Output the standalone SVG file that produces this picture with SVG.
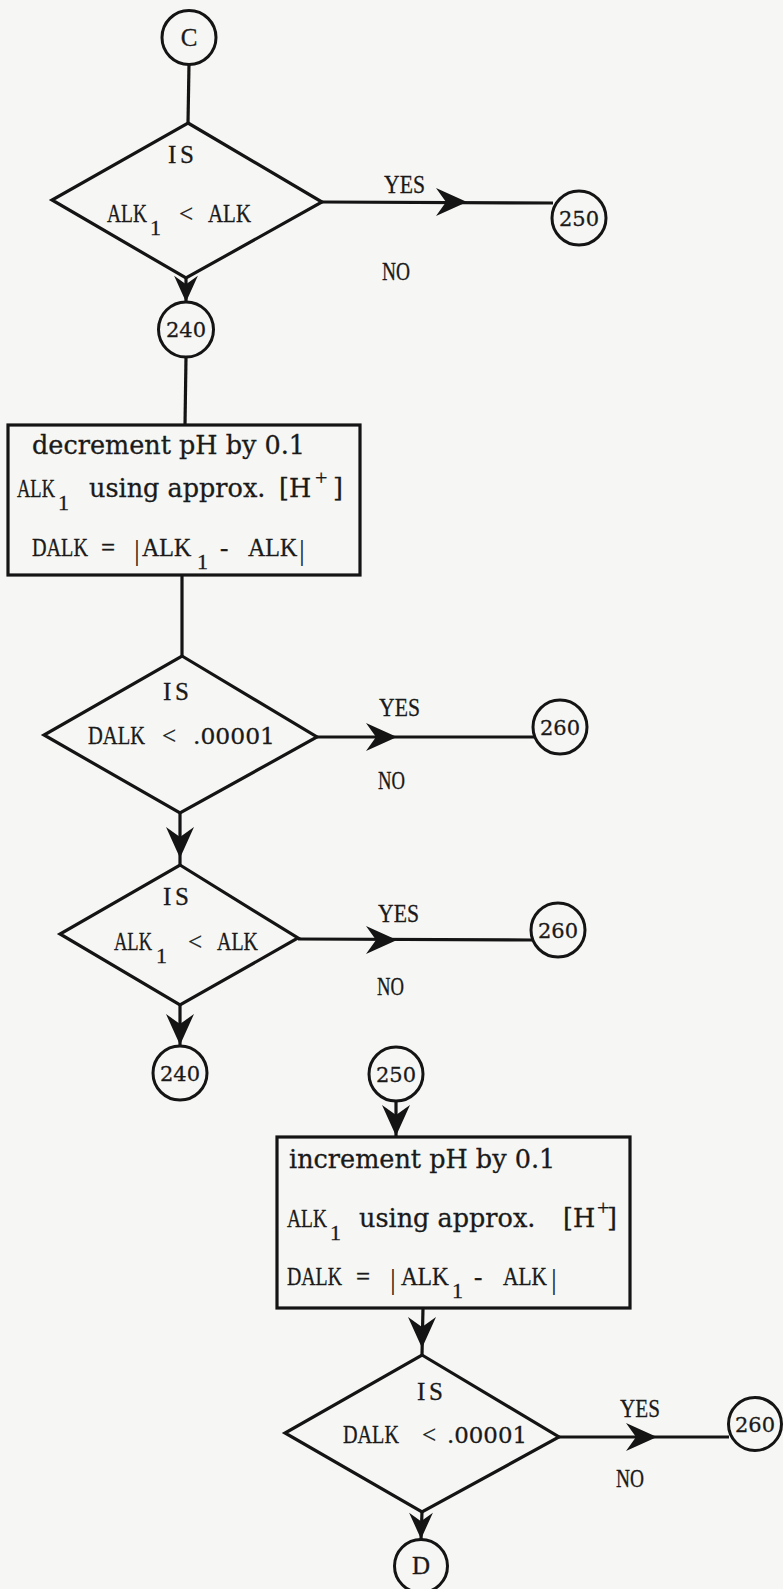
<svg xmlns="http://www.w3.org/2000/svg" xmlns:xlink="http://www.w3.org/1999/xlink" width="783" height="1589" viewBox="0 0 783 1589">
<style>
.ln{stroke:#141414;stroke-width:3.2;fill:none;stroke-linejoin:miter}
.cir{stroke:#141414;stroke-width:3;fill:none}
.ah{fill:#141414}
text{fill:#1a1a1a;stroke:#1a1a1a;stroke-width:0.3}
.cap{font-family:"Liberation Serif","Times New Roman",serif;font-size:25px}
.sub{font-family:"Liberation Serif","Times New Roman",serif;font-size:22px}
.low{font-family:"DejaVu Serif","Liberation Serif",serif;font-size:25.5px}
.num{font-family:"DejaVu Serif","Liberation Serif",serif;font-size:21px}
.dig{font-family:"DejaVu Serif","Liberation Serif",serif;font-size:23px}
.bar{font-family:"Liberation Serif","Times New Roman",serif;font-size:29px;stroke-width:0}
.mid{text-anchor:middle}
</style>
<defs>
<path id="ah" d="M0,0 L-31,-14 L-21,0 L-31,14 Z"/>
</defs>
<rect x="0" y="0" width="783" height="1589" fill="#f6f6f4"/>

<g id="connectors">
<line class="ln" x1="189" y1="64" x2="188" y2="123"/>
<line class="ln" x1="322" y1="202" x2="553" y2="203"/>
<line class="ln" x1="186" y1="278" x2="186" y2="302"/>
<line class="ln" x1="186" y1="357" x2="185" y2="425"/>
<line class="ln" x1="182" y1="575" x2="182" y2="656"/>
<line class="ln" x1="317" y1="737" x2="534" y2="737"/>
<line class="ln" x1="180" y1="813" x2="180" y2="865"/>
<line class="ln" x1="298" y1="939" x2="532" y2="940"/>
<line class="ln" x1="180" y1="1005" x2="180" y2="1046"/>
<line class="ln" x1="396" y1="1101" x2="396" y2="1137"/>
<line class="ln" x1="423" y1="1308" x2="422" y2="1355"/>
<line class="ln" x1="559" y1="1437" x2="729" y2="1437"/>
<line class="ln" x1="422" y1="1512" x2="421" y2="1540"/>
<use href="#ah" class="ah" transform="translate(467,202)"/>
<use href="#ah" class="ah" transform="translate(397,737)"/>
<use href="#ah" class="ah" transform="translate(397,940)"/>
<use href="#ah" class="ah" transform="translate(657,1437)"/>
<use href="#ah" class="ah" transform="translate(186,302) rotate(90) scale(0.85)"/>
<use href="#ah" class="ah" transform="translate(180,858) rotate(90)"/>
<use href="#ah" class="ah" transform="translate(180,1045) rotate(90)"/>
<use href="#ah" class="ah" transform="translate(396,1136) rotate(90)"/>
<use href="#ah" class="ah" transform="translate(422,1348) rotate(90)"/>
<use href="#ah" class="ah" transform="translate(421,1539) rotate(90) scale(0.85)"/>
<text class="cap" transform="translate(384,193) scale(0.868,1)">YES</text>
<text class="cap" transform="translate(382,280) scale(0.776,1)">NO</text>
<text class="cap" transform="translate(379,716) scale(0.868,1)">YES</text>
<text class="cap" transform="translate(378,789) scale(0.748,1)">NO</text>
<text class="cap" transform="translate(378,922) scale(0.868,1)">YES</text>
<text class="cap" transform="translate(377,995) scale(0.748,1)">NO</text>
<text class="cap" transform="translate(620,1417) scale(0.847,1)">YES</text>
<text class="cap" transform="translate(616,1487) scale(0.776,1)">NO</text>
</g>

<g id="nodeC">
<circle class="cir" cx="189" cy="37.5" r="27"/>
<text class="cap mid" x="189" y="46">C</text>
</g>

<g id="dec1">
<polygon class="ln" points="188,123 322,202 186,278 52,200"/>
<text class="cap" x="168" y="163" textLength="26" lengthAdjust="spacing">IS</text>
<text class="cap" transform="translate(107,222) scale(0.778,1)">ALK</text>
<text class="sub" x="150" y="235">1</text>
<text class="cap" x="179" y="222">&lt;</text>
<text class="cap" transform="translate(208,222) scale(0.837,1)">ALK</text>
</g>

<g id="n250a">
<circle class="cir" cx="579" cy="218" r="27"/>
<text class="num mid" x="579" y="225.5">250</text>
</g>

<g id="n240a">
<circle class="cir" cx="186" cy="329.5" r="27.5"/>
<text class="num mid" x="186" y="337">240</text>
</g>

<g id="box1">
<rect class="ln" x="8" y="425" width="352" height="150"/>
<text class="low" x="32" y="454">decrement pH by 0.1</text>
<text class="cap" transform="translate(17,497) scale(0.74,1)">ALK</text>
<text class="sub" x="58" y="510">1</text>
<text class="low" x="89" y="497">using approx.</text>
<text class="low" x="279" y="497">[H</text>
<text class="sub" x="315" y="485">+</text>
<text class="low" x="333" y="497">]</text>
<text class="cap" transform="translate(32,556) scale(0.807,1)">DALK</text>
<text class="cap" x="101" y="556">=</text>
<text class="bar" x="134" y="560">|</text>
<text class="cap" transform="translate(142,556) scale(0.96,1)">ALK</text>
<text class="sub" x="197" y="569">1</text>
<text class="cap" x="220" y="556">-</text>
<text class="cap" transform="translate(248,556) scale(0.96,1)">ALK</text>
<text class="bar" x="299" y="560">|</text>
</g>

<g id="dec2">
<polygon class="ln" points="182,656 317,737 180,813 44,735"/>
<text class="cap" x="163" y="700" textLength="26" lengthAdjust="spacing">IS</text>
<text class="cap" transform="translate(88,744) scale(0.821,1)">DALK</text>
<text class="cap" x="162" y="744">&lt;</text>
<text class="dig" x="193" y="744" textLength="82" lengthAdjust="spacingAndGlyphs">.00001</text>
</g>

<g id="n260a">
<circle class="cir" cx="560" cy="727" r="27"/>
<text class="num mid" x="560" y="734.5">260</text>
</g>

<g id="dec3">
<polygon class="ln" points="180,865 298,938 180,1005 60,934"/>
<text class="cap" x="163" y="905" textLength="26" lengthAdjust="spacing">IS</text>
<text class="cap" transform="translate(114,950) scale(0.74,1)">ALK</text>
<text class="sub" x="156" y="963">1</text>
<text class="cap" x="188" y="950">&lt;</text>
<text class="cap" transform="translate(217,950) scale(0.798,1)">ALK</text>
</g>

<g id="n260b">
<circle class="cir" cx="558" cy="930" r="27"/>
<text class="num mid" x="558" y="937.5">260</text>
</g>

<g id="n240b">
<circle class="cir" cx="180" cy="1073" r="27"/>
<text class="num mid" x="180" y="1080.5">240</text>
</g>

<g id="n250b">
<circle class="cir" cx="396" cy="1074" r="27"/>
<text class="num mid" x="396" y="1081.5">250</text>
</g>

<g id="box2">
<rect class="ln" x="277" y="1137" width="353" height="171"/>
<text class="low" x="289" y="1168">increment pH by 0.1</text>
<text class="cap" transform="translate(287,1227) scale(0.778,1)">ALK</text>
<text class="sub" x="330" y="1240">1</text>
<text class="low" x="359" y="1227">using approx.</text>
<text class="low" x="563" y="1227">[H</text>
<text class="sub" x="597" y="1215">+</text>
<text class="low" x="607" y="1227">]</text>
<text class="cap" transform="translate(287,1285) scale(0.793,1)">DALK</text>
<text class="cap" x="356" y="1285">=</text>
<text class="bar" x="390" y="1289">|</text>
<text class="cap" transform="translate(401,1285) scale(0.934,1)">ALK</text>
<text class="sub" x="452" y="1298">1</text>
<text class="cap" x="474" y="1285">-</text>
<text class="cap" transform="translate(503,1285) scale(0.856,1)">ALK</text>
<text class="bar" x="551" y="1289">|</text>
</g>

<g id="dec4">
<polygon class="ln" points="422,1355 559,1437 422,1512 285,1433"/>
<text class="cap" x="417" y="1400" textLength="26" lengthAdjust="spacing">IS</text>
<text class="cap" transform="translate(343,1443) scale(0.807,1)">DALK</text>
<text class="cap" x="422" y="1443">&lt;</text>
<text class="dig" x="447" y="1443" textLength="80" lengthAdjust="spacingAndGlyphs">.00001</text>
</g>

<g id="n260c">
<circle class="cir" cx="755" cy="1424" r="26.5"/>
<text class="num mid" x="755" y="1431.5">260</text>
</g>

<g id="nodeD">
<circle class="cir" cx="421" cy="1566" r="26.5"/>
<text class="cap mid" x="421" y="1574">D</text>
</g>
</svg>
